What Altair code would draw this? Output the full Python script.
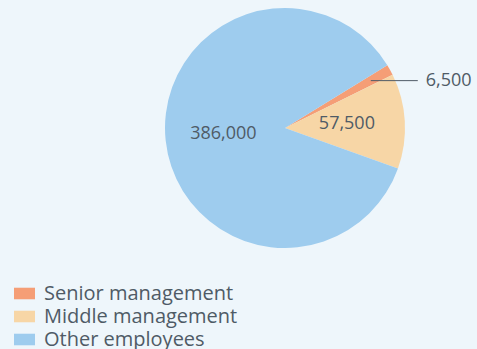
import math
import altair as alt
import pandas as pd

categories = ["Senior management", "Middle management", "Other employees"]
values = [6500, 57500, 386000]
value_labels = ["6,500", "57,500", "386,000"]
colors = ["#f59e76", "#f7d6a6", "#9eccee"]

START = math.radians(58.5)
CX, CY, R = 285, 128, 120
TEXT_COLOR = "#4f5b66"
FONT = "Open Sans"

df = pd.DataFrame({
    "category": categories,
    "value": values,
    "label": value_labels,
    "order": list(range(len(categories))),
})

theta = alt.Theta("value:Q", stack=True,
                  scale=alt.Scale(range=[START, START + 2 * math.pi]))
order = alt.Order("order:Q")

base = alt.Chart(df)

pie = base.mark_arc(outerRadius=R, stroke=None).encode(
    theta=theta,
    order=order,
    color=alt.Color(
        "category:N",
        scale=alt.Scale(domain=categories, range=colors),
        legend=alt.Legend(
            title=None,
            orient="none",
            legendX=14,
            legendY=283,
            padding=0,
            symbolType="M-1,-0.55H1V0.55H-1Z",
            symbolSize=441,
            symbolStrokeWidth=0,
            symbolOpacity=1,
            labelFont=FONT,
            labelFontSize=20,
            labelColor=TEXT_COLOR,
            labelOffset=9,
            rowPadding=2,
            labelLimit=400,
        ),
    ),
    x=alt.value(CX),
    y=alt.value(CY),
)

inner = base.transform_calculate(
    inner_label="datum.order == 0 ? '' : datum.label"
).mark_text(radius=62, font=FONT, fontSize=18, color=TEXT_COLOR,
            align="center", baseline="middle").encode(
    theta=theta,
    order=order,
    text="inner_label:N",
    x=alt.value(CX),
    y=alt.value(CY),
)

annot = base.transform_joinaggregate(
    total="sum(value)"
).transform_window(
    cum="sum(value)", sort=[alt.SortField("order")]
).transform_calculate(
    mid=f"{START} + 2*PI*(datum.cum - datum.value/2)/datum.total"
).transform_calculate(
    ax=f"{CX} + 98*sin(datum.mid)",
    ay=f"{CY} - 98*cos(datum.mid)",
).transform_calculate(
    bx="datum.ax + 47",
    tx="datum.ax + 55",
).transform_filter("datum.order == 0")

leader = annot.mark_rule(color=TEXT_COLOR, strokeWidth=1).encode(
    x=alt.X("ax:Q", scale=None),
    x2="bx:Q",
    y=alt.Y("ay:Q", scale=None),
)

outer_text = annot.mark_text(font=FONT, fontSize=18, color=TEXT_COLOR,
                             align="left", baseline="middle").encode(
    x=alt.X("tx:Q", scale=None),
    y=alt.Y("ay:Q", scale=None),
    text="label:N",
)

chart = alt.layer(pie, inner, leader, outer_text).properties(
    width=477,
    height=349,
    autosize="none",
    padding=0,
    background="#eef6fb",
).configure_view(stroke=None)

chart.save("out.html", embed_options={"renderer": "svg", "actions": False})
